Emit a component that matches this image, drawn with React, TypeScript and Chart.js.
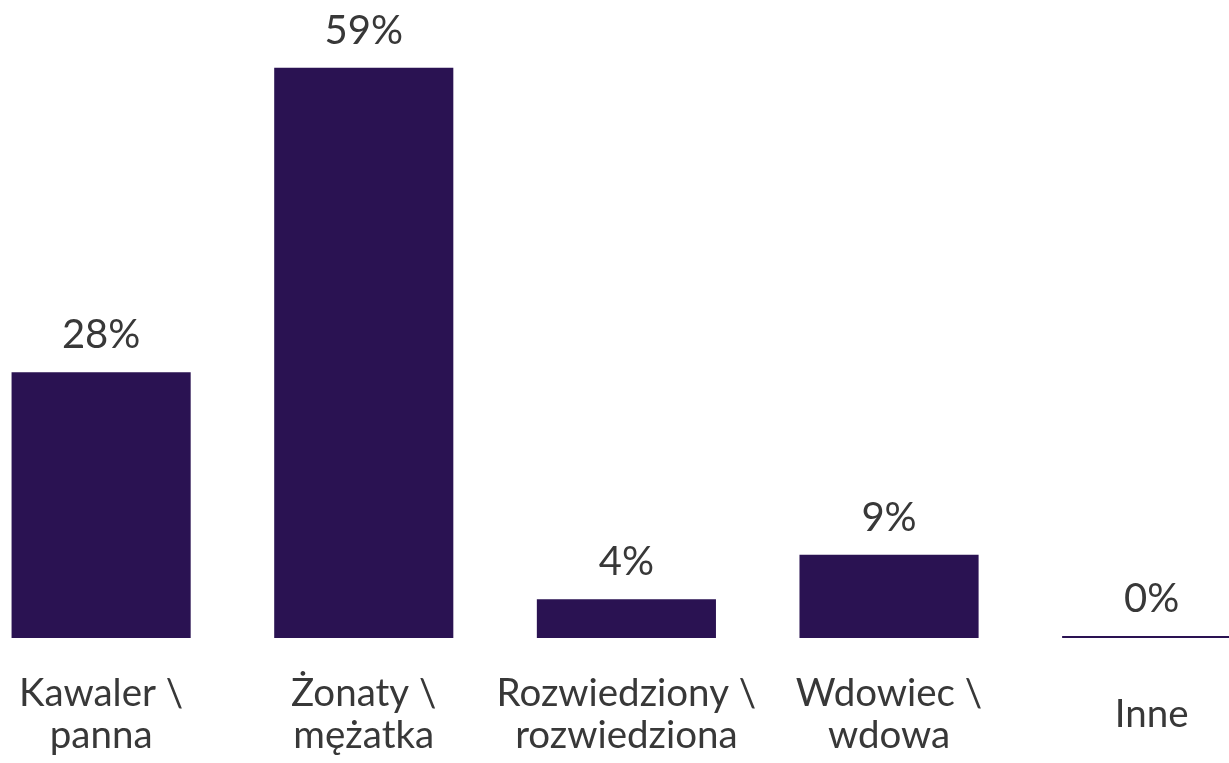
import React, { useEffect, useRef } from "react";
import { Chart, registerables } from "chart.js";

Chart.register(...registerables);

const categories: string[][] = [
  ["Kawaler \\", "panna"],
  ["Żonaty \\", "mężatka"],
  ["Rozwiedziony \\", "rozwiedziona"],
  ["Wdowiec \\", "wdowa"],
  ["Inne"],
];
const values: number[] = [27.5, 59, 4, 8.6, 0];

const BAR_COLOR = "#2a1252";
const TEXT_COLOR = "#383838";
const FONT = "Lato";

const valueLabels = {
  id: "valueLabels",
  afterDatasetsDraw(chart: any) {
    const ctx = chart.ctx;
    const meta = chart.getDatasetMeta(0);
    ctx.save();
    ctx.font = `40px ${FONT}`;
    ctx.fillStyle = TEXT_COLOR;
    ctx.textAlign = "center";
    ctx.textBaseline = "alphabetic";
    meta.data.forEach((bar: any, i: number) => {
      const v = chart.data.datasets[0].data[i] as number;
      ctx.fillText(Math.round(v) + "%", bar.x, bar.y - 24);
    });
    ctx.restore();
  },
};

export default function App() {
  const ref = useRef<HTMLCanvasElement | null>(null);
  useEffect(() => {
    if (!ref.current) return;
    const chart = new Chart(ref.current, {
      type: "bar",
      data: {
        labels: categories,
        datasets: [
          {
            data: values,
            backgroundColor: BAR_COLOR,
            borderWidth: 0,
            minBarLength: 2,
            categoryPercentage: 1,
            barPercentage: 0.682,
          },
        ],
      },
      options: {
        animation: false,
        responsive: true,
        maintainAspectRatio: false,
        layout: { padding: { top: 0, bottom: 7, left: 0, right: 0 } },
        plugins: {
          legend: { display: false },
          tooltip: { enabled: false },
        },
        scales: {
          x: {
            grid: { display: false, drawTicks: false },
            border: { display: false },
            ticks: {
              color: TEXT_COLOR,
              font: { family: FONT, size: 38.5, lineHeight: "42px" },
              padding: 56,
              maxRotation: 0,
              minRotation: 0,
              autoSkip: false,
              crossAlign: "center",
            },
          },
          y: {
            display: false,
            min: 0,
            max: 66,
          },
        },
      },
      plugins: [valueLabels],
    });
    return () => chart.destroy();
  }, []);

  return (
    <div
      style={{
        position: "fixed",
        left: 0,
        top: 0,
        width: 1229,
        height: 763,
        overflow: "hidden",
        background: "#ffffff",
      }}
    >
      <div style={{ position: "absolute", left: -37, top: 0, width: 1320, height: 841 }}>
        <canvas ref={ref} />
      </div>
    </div>
  );
}
